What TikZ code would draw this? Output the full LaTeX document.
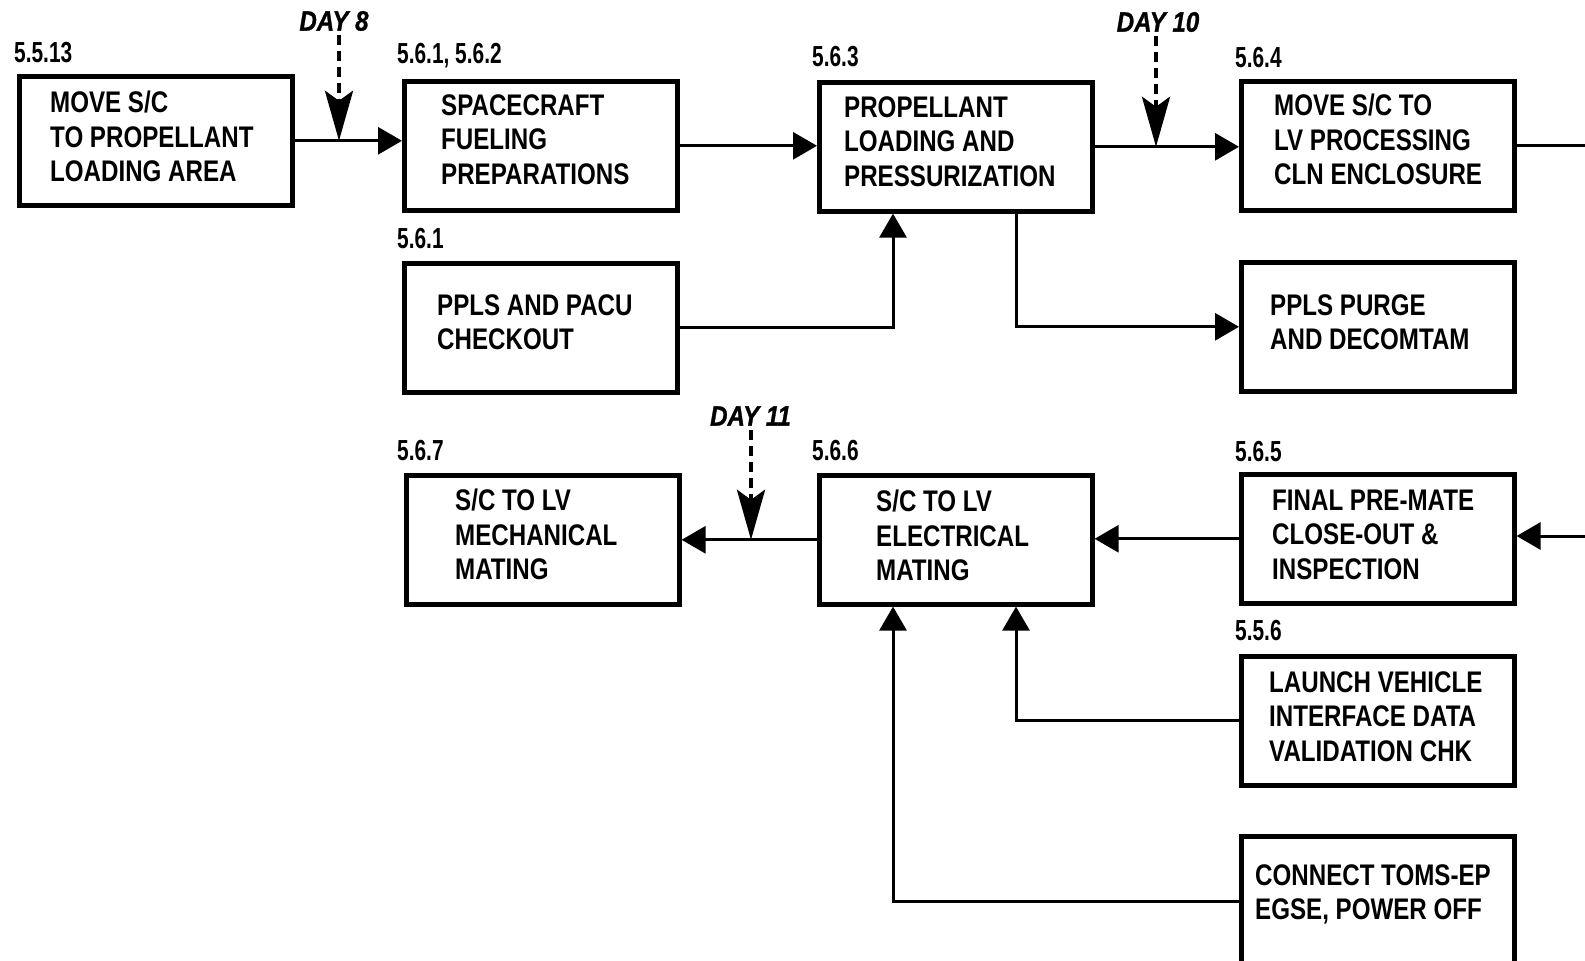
\documentclass[tikz,border=0pt]{standalone}
\usepackage{fontspec}
\usetikzlibrary{arrows.meta,calc}
\newfontfamily\boxfont[FakeStretch=0.81]{Liberation Sans}
\newfontfamily\labfont[FakeStretch=0.72]{Liberation Sans}
\newfontfamily\dayfont[FakeStretch=0.86,FakeBold=1]{Liberation Sans}
\begin{document}
\begin{tikzpicture}[x=1pt,y=-1pt,
  box/.style={draw, line width=4.6pt, inner sep=0pt, anchor=north west, minimum width=273pt, minimum height=129pt},
  txt/.style={anchor=west, align=left, inner sep=0pt, font=\boxfont\bfseries\fontsize{29.8}{34.5}\selectfont},
  num/.style={anchor=west, inner sep=0pt, font=\labfont\bfseries\fontsize{29}{30}\selectfont},
  day/.style={anchor=center, inner sep=0pt, font=\dayfont\bfseries\itshape\fontsize{28}{30}\selectfont},
  conn/.style={line width=3pt, -{Triangle[length=24pt,width=27pt]}},
  plainline/.style={line width=3pt},
  dayarrow/.style={line width=4.5pt, dash pattern=on 10pt off 6pt, -{Stealth[length=50pt,width=28pt,inset=10pt]}}
]
\useasboundingbox (0,0) rectangle (1585,961);
\fill[white] (0,0) rectangle (1585,961);

% boxes
\node[box] (A) at (17,74) {};
\node[box] (B) at (402,79) {};
\node[box] (C) at (817,80) {};
\node[box] (D) at (1239,79) {};
\node[box] (E) at (402,261) {};
\node[box] (F) at (1239,260) {};
\node[box] (G) at (404,473) {};
\node[box] (H) at (817,473) {};
\node[box] (I) at (1239,472) {};
\node[box] (J) at (1239,654) {};
\node[box, minimum height=131pt] (K) at (1239,834) {};

% box texts
\node[txt] (At) at (50,136.5) {MOVE S/C\\TO PROPELLANT\\LOADING AREA};
\node[txt] (Bt) at (441,139.5) {SPACECRAFT\\FUELING\\PREPARATIONS};
\node[txt] (Ct) at (844,141.5) {PROPELLANT\\LOADING AND\\PRESSURIZATION};
\node[txt] (Dt) at (1274,139.5) {MOVE S/C TO\\LV PROCESSING\\CLN ENCLOSURE};
\node[txt] (Et) at (437,322) {PPLS AND PACU\\CHECKOUT};
\node[txt] (Ft) at (1270,322) {PPLS PURGE\\AND DECOMTAM};
\node[txt] (Gt) at (455,534.7) {S/C TO LV\\MECHANICAL\\MATING};
\node[txt] (Ht) at (876,535.7) {S/C TO LV\\ELECTRICAL\\MATING};
\node[txt] (It) at (1272,534.7) {FINAL PRE-MATE\\CLOSE-OUT \&\\INSPECTION};
\node[txt] (Jt) at (1269,716.7) {LAUNCH VEHICLE\\INTERFACE DATA\\VALIDATION CHK};
\node[txt] (Kt) at (1255,894.6) {CONNECT TOMS-EP\\EGSE, POWER OFF};

% number labels
\node[num] (nA) at (14,53) {5.5.13};
\node[num] (nB) at (397,55.6) {5.6.1, 5.6.2};
\node[num] (nC) at (812,56.6) {5.6.3};
\node[num] (nD) at (1235,57.6) {5.6.4};
\node[num] (nE) at (397,238.5) {5.6.1};
\node[num] (nG) at (397,450.8) {5.6.7};
\node[num] (nH) at (812,450.8) {5.6.6};
\node[num] (nI) at (1235,451.8) {5.6.5};
\node[num] (nJ) at (1235,630.7) {5.5.6};

% helper coordinates
\coordinate (outR) at (1590,143);
\coordinate (inR) at (1590,536);
\coordinate (c1) at (893,0);
\coordinate (c2) at (1016,0);
\coordinate (x8) at (339,0);
\coordinate (x10) at (1156,0);
\coordinate (x11) at (751,0);

% connectors
\draw[conn] (A.east) -- (A.east -| B.west);
\draw[conn] (B.east) -- (B.east -| C.west);
\draw[conn] (C.east) -- (C.east -| D.west);
\draw[plainline] (D.east) -- (D.east -| outR);
\draw[conn] (E.east) -| (c1 |- C.south);
\draw[conn] (c2 |- C.south) |- (F.west);
\draw[conn] (inR) -- (inR -| I.east);
\draw[conn] (I.west) -- (I.west -| H.east);
\draw[conn] (H.west) -- (H.west -| G.east);
\draw[conn] (J.west) -| (c2 |- H.south);
\draw[conn] (K.west) -| (c1 |- H.south);

% day markers
\node[day] (d8) at (334,21) {DAY 8};
\node[day] (d10) at (1158,22) {DAY 10};
\node[day] (d11) at (750.5,416) {DAY 11};
\draw[dayarrow] ([yshift=-4pt]x8 |- d8.south) -- (x8 |- A.east);
\draw[dayarrow] ([yshift=-4pt]x10 |- d10.south) -- (x10 |- C.east);
\draw[dayarrow] ([yshift=-4pt]x11 |- d11.south) -- (x11 |- H.west);
\end{tikzpicture}
\end{document}
